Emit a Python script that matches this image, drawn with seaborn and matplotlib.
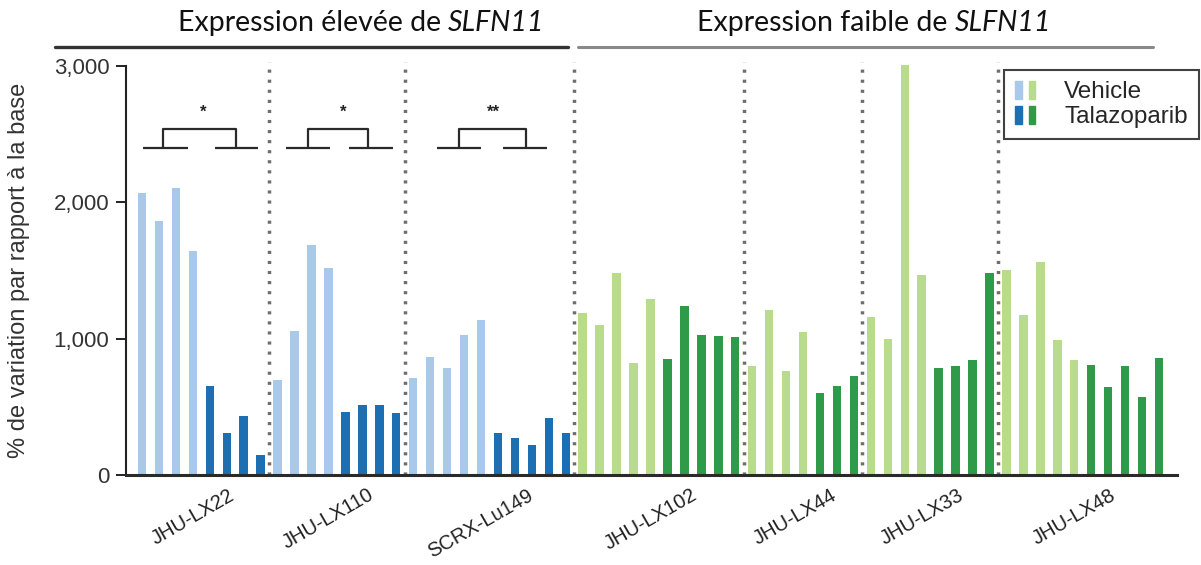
import numpy as np
import pandas as pd
import matplotlib
matplotlib.use("Agg")
import matplotlib.pyplot as plt
import seaborn as sns
from matplotlib.patches import Patch
from matplotlib.legend_handler import HandlerTuple
from matplotlib.lines import Line2D

# ---- data -------------------------------------------------------------
cell_lines = ["JHU-LX22", "JHU-LX110", "SCRX-Lu149", "JHU-LX102",
              "JHU-LX44", "JHU-LX33", "JHU-LX48"]
slfn11_high = [True, True, True, False, False, False, False]
vehicle = [
    [2070, 1860, 2105, 1645],
    [700, 1055, 1690, 1515],
    [710, 865, 785, 1025, 1135],
    [1185, 1100, 1485, 820, 1290],
    [800, 1210, 760, 1050],
    [1160, 1000, 3010, 1465],
    [1500, 1170, 1560, 990, 845],
]
talazoparib = [
    [650, 310, 430, 145],
    [460, 512, 512, 458],
    [310, 270, 220, 420, 310],
    [848, 1238, 1026, 1020, 1010],
    [600, 655, 728],
    [782, 798, 843, 1485],
    [808, 648, 798, 570, 860],
]
significance = ["*", "*", "**"]
yticks = [0, 1000, 2000, 3000]
header_prefix = ["Expression élevée de ", "Expression faible de "]
gene = "SLFN11"
ylabel = "% de variation par rapport à la base"
legend_labels = ["Vehicle", "Talazoparib"]

palette = {
    "Vehicle-high": "#a8c9e9",
    "Talazoparib-high": "#1c6fb2",
    "Vehicle-low": "#b8dc8b",
    "Talazoparib-low": "#2f9a47",
}

# ---- long table: one row per animal, consecutive x positions ---------
rows = []
group_start, group_end = [], []
pos = 0
for name, high, veh, tal in zip(cell_lines, slfn11_high, vehicle, talazoparib):
    level = "high" if high else "low"
    group_start.append(pos)
    for v in veh:
        rows.append({"pos": pos, "value": v, "line": name, "key": f"Vehicle-{level}"})
        pos += 1
    for v in tal:
        rows.append({"pos": pos, "value": v, "line": name, "key": f"Talazoparib-{level}"})
        pos += 1
    group_end.append(pos - 1)
df = pd.DataFrame(rows)
n_bars = len(df)

# ---- style ------------------------------------------------------------
sns.set_style("white")
plt.rcParams["font.family"] = ["Liberation Sans", "DejaVu Sans"]

fig = plt.figure(figsize=(12.01, 5.65), dpi=100)
ax = fig.add_axes([0.1049, 0.1593, 0.980 - 0.1049, 0.8977 - 0.1593])

sns.barplot(data=df, x="pos", y="value", hue="key", palette=palette,
            native_scale=True, dodge=False, width=0.5, errorbar=None,
            saturation=1, legend=False, ax=ax, linewidth=0)

ax.set_xlim(-0.944, n_bars - 1 + 1.06)
ax.set_ylim(0, 3060)

# group separators
for s in group_start[1:]:
    ax.vlines(s - 0.5, 0, 3030, colors="#6e6e6e", linewidth=2.5,
              linestyles=(0, (0.9, 2.0)), zorder=0.5)

# significance brackets (offsets relative to first bar of each line)
brackets = [
    ((0.05, 2.7), (4.3, 6.85), (1.25, 5.55), 3.6),
    ((0.48, 3.09), (4.23, 6.83), (1.81, 5.35), 3.84),
    ((1.39, 4.0), (5.28, 7.88), (2.7, 6.67), 4.73),
]
y_base, y_top, y_star = 2400, 2540, 2660
for g, (lseg, rseg, legs, star), mark in zip(range(3), brackets, significance):
    s0 = group_start[g]
    kw = dict(color="#2a2a2a", linewidth=1.6, solid_capstyle="butt")
    ax.plot([s0 + lseg[0], s0 + lseg[1]], [y_base, y_base], **kw)
    ax.plot([s0 + rseg[0], s0 + rseg[1]], [y_base, y_base], **kw)
    ax.plot([s0 + legs[0], s0 + legs[0], s0 + legs[1], s0 + legs[1]],
            [y_base, y_top, y_top, y_base], **kw)
    ax.text(s0 + star, y_star, mark, ha="center", va="center",
            fontsize=12, fontweight="bold", color="#222222")

# axes decoration
sns.despine(ax=ax, top=True, right=True)
ax.spines["left"].set_bounds(0, 3000)
ax.spines["left"].set_linewidth(1.5)
ax.spines["left"].set_color("#222222")
ax.spines["bottom"].set_linewidth(2.2)
ax.spines["bottom"].set_color("#2a2a2a")

ax.set_yticks(yticks)
ax.set_yticklabels([f"{t:,}" for t in yticks], fontsize=16, color="#333333")
ax.tick_params(axis="y", left=True, length=7, width=1.4, pad=5, color="#222222")

centers = [(a + b) / 2 - 0.5 for a, b in zip(group_start, group_end)]
ax.set_xticks(centers)
ax.set_xticklabels(cell_lines, rotation=30, ha="center", fontsize=14.5,
                   color="#222222")
ax.tick_params(axis="x", bottom=False, pad=4)
ax.set_xlabel("")
ax.set_ylabel("")

fig.text(0.0155, 0.522, ylabel, rotation=90, ha="center", va="center",
         fontsize=17, color="#333333")

# headers above each expression class
fig.add_artist(Line2D([0.0458, 0.473], [0.917, 0.917], color="#333333",
                      linewidth=2.4, transform=fig.transFigure))
fig.add_artist(Line2D([0.481, 0.960], [0.917, 0.917], color="#8a8a8a",
                      linewidth=2.2, transform=fig.transFigure))

renderer = fig.canvas.get_renderer()
for prefix, xc in zip(header_prefix, [0.3006, 0.7277]):
    t1 = fig.text(0, 0.945, prefix, ha="left", va="baseline", fontsize=20.5,
                  family="Lato", color="#111111")
    t2 = fig.text(0, 0.945, gene, ha="left", va="baseline", fontsize=20.5,
                  family="Lato", style="italic", color="#111111")
    w1 = t1.get_window_extent(renderer).width / fig.bbox.width
    w2 = t2.get_window_extent(renderer).width / fig.bbox.width
    x0 = xc - (w1 + w2) / 2
    t1.set_x(x0)
    t2.set_x(x0 + w1)

# legend with paired blue/green swatches
h_veh = (Patch(color=palette["Vehicle-high"]), Patch(color=palette["Vehicle-low"]))
h_tal = (Patch(color=palette["Talazoparib-high"]), Patch(color=palette["Talazoparib-low"]))
leg = ax.legend([h_veh, h_tal], legend_labels,
                handler_map={tuple: HandlerTuple(ndivide=None, pad=0.3)},
                loc="upper right", bbox_to_anchor=(0.998, 0.876),
                bbox_transform=fig.transFigure, borderaxespad=0,
                fontsize=17.5, frameon=True,
                fancybox=False, edgecolor="#111111", handlelength=0.8,
                handleheight=0.75, handletextpad=1.2, labelspacing=0.1,
                borderpad=0.45)
leg.get_frame().set_linewidth(1.5)

fig.savefig("out.png", dpi=100)
